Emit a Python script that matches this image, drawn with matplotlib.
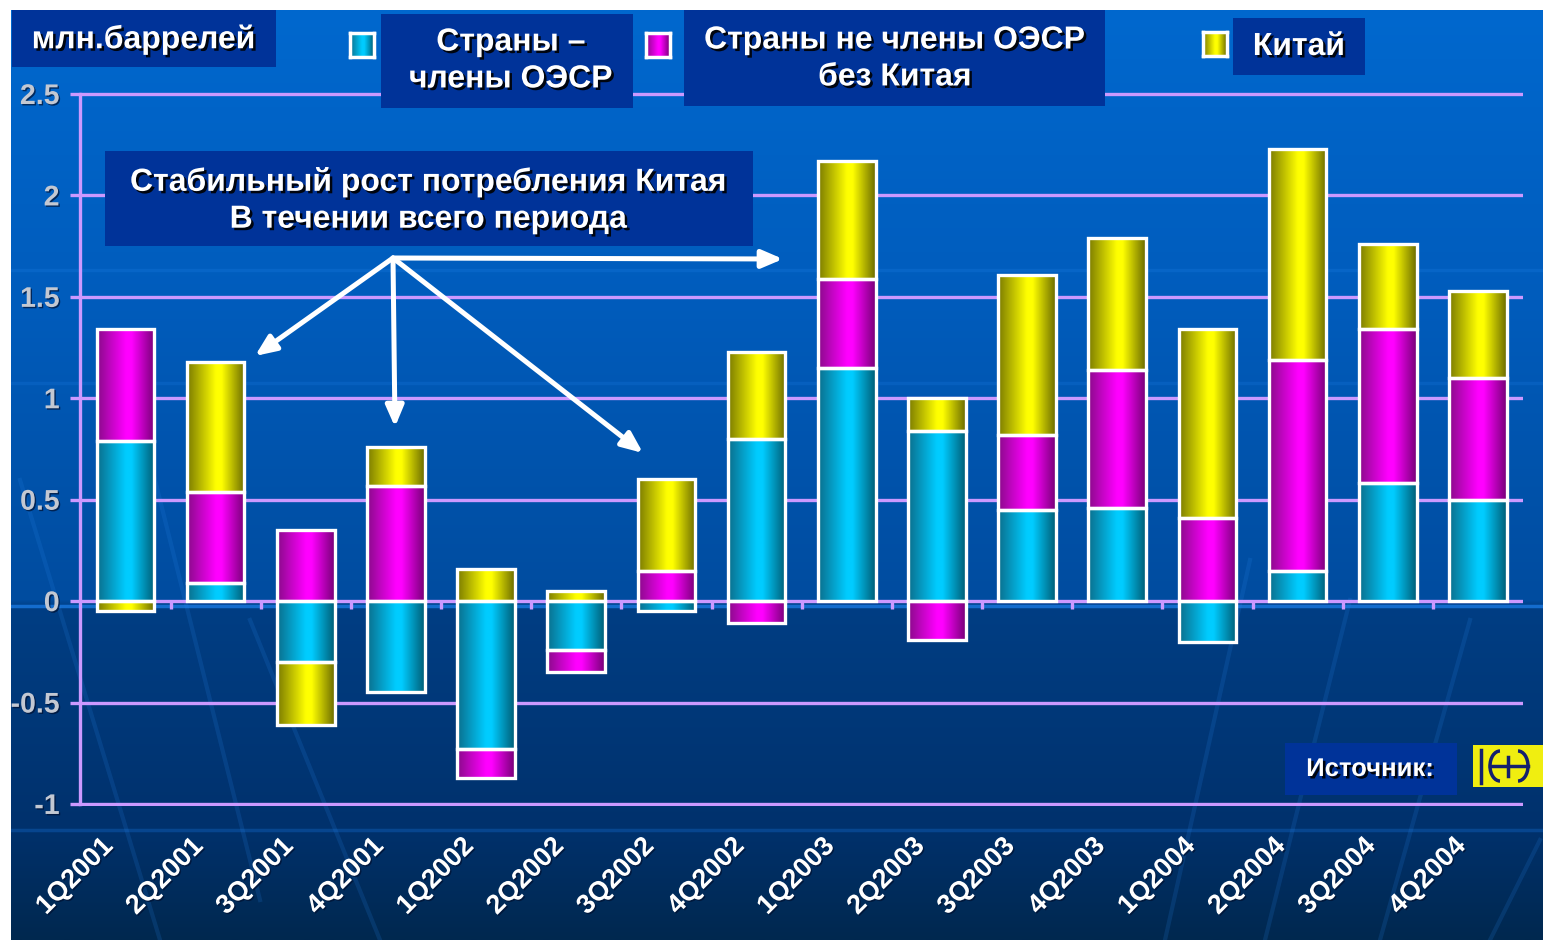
import matplotlib
matplotlib.use('Agg')
import numpy as np
import matplotlib.pyplot as plt
from matplotlib.colors import LinearSegmentedColormap, to_rgb
from matplotlib.patches import Rectangle, FancyArrowPatch, Arc
from matplotlib.lines import Line2D
from matplotlib.transforms import ScaledTranslation
import matplotlib.patheffects as pe

# ---------------- data ----------------
quarters = ['1Q2001', '2Q2001', '3Q2001', '4Q2001',
            '1Q2002', '2Q2002', '3Q2002', '4Q2002',
            '1Q2003', '2Q2003', '3Q2003', '4Q2003',
            '1Q2004', '2Q2004', '3Q2004', '4Q2004']
oecd     = [0.79, 0.09, -0.30, -0.45, -0.73, -0.24, -0.05, 0.80,
            1.15, 0.84, 0.45, 0.46, -0.20, 0.15, 0.58, 0.50]
non_oecd = [0.55, 0.45, 0.35, 0.57, -0.14, -0.11, 0.15, -0.11,
            0.44, -0.19, 0.37, 0.68, 0.41, 1.04, 0.76, 0.60]
china    = [-0.05, 0.64, -0.31, 0.19, 0.16, 0.05, 0.45, 0.43,
            0.58, 0.16, 0.79, 0.65, 0.93, 1.04, 0.42, 0.43]
y_ticks = [-1, -0.5, 0, 0.5, 1, 1.5, 2, 2.5]
y_tick_labels = ['-1', '-0.5', '0', '0.5', '1', '1.5', '2', '2.5']

unit_label = 'млн.баррелей'
legend_labels = ['Страны –\nчлены ОЭСР', 'Страны не члены ОЭСР\nбез Китая', 'Китай']
note_text = 'Стабильный рост потребления Китая\nВ течении всего периода'
source_text = 'Источник:'

# ---------------- style ----------------
FONT = ['Liberation Sans', 'DejaVu Sans']
plt.rcParams['font.family'] = FONT
GRID = '#CC99FF'
BOXC = '#003399'
grad_colors = {
    'cyan':    ('#0A6E8C', '#00CCFF', '#005C74'),
    'magenta': ('#8A0A8A', '#FF00FF', '#760076'),
    'yellow':  ('#7A7A00', '#FFFF00', '#6A6A00'),
}

W, H = 1543, 940
fig = plt.figure(figsize=(W / 100, H / 100), dpi=100, facecolor='white')


def fx(x):
    return x / W


def fy(y):
    return 1 - y / H


def make_cmap(name):
    l, m, r = grad_colors[name]
    return LinearSegmentedColormap.from_list(
        name, [(0, l), (0.5, m), (0.6, m), (1, r)])


grad = np.linspace(0, 1, 256)[None, :]

# ---------------- background ----------------
bg = fig.add_axes([fx(11), 0, fx(1543) - fx(11), fy(10)])
bg.set_xlim(11, 1543)
bg.set_ylim(940, 10)
bg.axis('off')
stops_y = [10, 300, 600, 607, 830, 940]
stops_c = [to_rgb(c) for c in ['#0068CE', '#005CBC', '#004C9F', '#003E84', '#00316C', '#00284F']]
ys = np.arange(10, 941)
img = np.zeros((len(ys), 1, 3))
for ch in range(3):
    img[:, 0, ch] = np.interp(ys, stops_y, [c[ch] for c in stops_c])
bg.imshow(img, extent=(11, 1543, 940, 10), aspect='auto', origin='upper',
          interpolation='bilinear')
for yy, a in [(270, 0.3), (383, 0.25), (606, 0.8), (830, 0.3)]:
    bg.plot([11, 1543], [yy, yy], color='#1A78E0', lw=2.5, alpha=a)
for (x0, y0, x1, y1) in [(20, 480, 160, 940), (140, 420, 260, 900), (250, 620, 380, 940),
                         (1250, 560, 1165, 940), (1350, 600, 1265, 940),
                         (1470, 620, 1380, 940), (1540, 840, 1490, 940)]:
    bg.plot([x0, x1], [y0, y1], color='#2A88EE', lw=3, alpha=0.16)

# ---------------- main axes ----------------
ax = fig.add_axes([fx(80.4), fy(806), fx(1523) - fx(80.4), (806 - 92) / H])
ax.set_facecolor('none')

n = len(quarters)
x = np.arange(n)
pos = np.zeros(n)
neg = np.zeros(n)
for vals, cname in [(oecd, 'cyan'), (non_oecd, 'magenta'), (china, 'yellow')]:
    v = np.array(vals, dtype=float)
    bottom = np.where(v >= 0, pos, neg)
    bars = ax.bar(x, v, width=0.64, bottom=bottom, facecolor='none',
                  edgecolor='white', linewidth=2.4, zorder=4)
    cm = make_cmap(cname)
    for p in bars.patches:
        bb = p.get_bbox()
        im = ax.imshow(grad, cmap=cm, extent=(bb.x0, bb.x1, bb.y0, bb.y1),
                       aspect='auto', zorder=3, interpolation='bilinear')
        im.set_clip_path(p)
    pos += np.clip(v, 0, None)
    neg += np.clip(v, None, 0)

# zero line boundary ticks
ax.vlines(x[:-1] + 0.5, -0.04, 0, colors=GRID, lw=2.4, zorder=1)

ax.set_xlim(-0.5, n - 0.5)
ax.set_ylim(-1.01, 2.51)
ax.set_yticks(y_ticks)
ax.set_yticklabels(y_tick_labels, fontweight='bold', fontsize=20.5, color='#C3C8D2')
ax.grid(axis='y', color=GRID, lw=2.4)
ax.set_axisbelow(True)
for s in ['top', 'right', 'bottom']:
    ax.spines[s].set_visible(False)
ax.spines['left'].set_color(GRID)
ax.spines['left'].set_linewidth(2.4)
ax.spines['left'].set_bounds(-1, 2.5)
ax.tick_params(axis='y', color=GRID, length=7, width=2.4, pad=8)

ax.set_xticks(x)
ax.set_xticklabels(quarters, rotation=45, ha='right', va='center',
                   rotation_mode='anchor', fontsize=19.5, fontweight='bold', color='white')
ax.tick_params(axis='x', length=0, pad=26)
for lab in ax.get_xticklabels():
    lab.set_transform(lab.get_transform() + ScaledTranslation(-0.16, 0, fig.dpi_scale_trans))
    lab.set_path_effects([pe.withSimplePatchShadow(offset=(1, -1), shadow_rgbFace='#001030', alpha=0.7)])
for lab in ax.get_yticklabels():
    lab.set_path_effects([pe.withSimplePatchShadow(offset=(1, -1), shadow_rgbFace='#001030', alpha=0.7)])

# ---------------- boxes / texts ----------------
shadow = [pe.withSimplePatchShadow(offset=(1.8, -1.8), shadow_rgbFace='black', alpha=0.9)]


def box(x0, y0, x1, y1, color=BOXC, z=5):
    fig.add_artist(Rectangle((fx(x0), fy(y1)), fx(x1) - fx(x0), fy(y0) - fy(y1),
                             transform=fig.transFigure, facecolor=color,
                             edgecolor='none', zorder=z))


def label(cx, cy, s, size, ls=1.2):
    fig.text(fx(cx), fy(cy), s, ha='center', va='center', fontsize=size,
             fontweight='bold', color='white', linespacing=ls,
             path_effects=shadow, zorder=6)


box(12, 10, 276, 67)
label(144, 40, unit_label, 23)

box(381, 14, 633, 108)
label(511, 61, legend_labels[0], 23, 1.3)
box(684, 10, 1105, 106)
label(895, 59, legend_labels[1], 23, 1.3)
box(1233, 18, 1365, 75)
label(1299, 47, legend_labels[2], 23)

box(105, 151, 753, 246)
label(429, 201, note_text, 23, 1.3)

box(1285, 743, 1457, 795)
label(1370, 769, source_text, 18.5)

# legend markers
for (x0, y0, cname) in [(350, 33, 'cyan'), (646, 33, 'magenta'), (1203, 32, 'yellow')]:
    la = fig.add_axes([fx(x0), fy(y0 + 24), fx(24), 24 / H])
    la.imshow(grad, cmap=make_cmap(cname), aspect='auto', interpolation='bilinear')
    la.set_xticks([])
    la.set_yticks([])
    for s in la.spines.values():
        s.set_color('white')
        s.set_linewidth(2.5)

# arrows
ox, oy = 393, 258
for tx, ty in [(255, 356), (395, 427), (643, 453), (783, 259)]:
    fig.add_artist(FancyArrowPatch((fx(ox), fy(oy)), (fx(tx), fy(ty)),
                                   transform=fig.transFigure,
                                   arrowstyle='-|>,head_length=0.7,head_width=0.3',
                                   mutation_scale=18, color='white', lw=3.6,
                                   shrinkA=0, shrinkB=0, zorder=7))

# logo
box(1473, 745, 1543, 787, color='#F0EE10', z=5)
NAVY = '#14206E'
for (xa, ya, xb, yb) in [(1481, 750, 1481, 783), (1490, 766, 1528, 766), (1508, 757, 1508, 776)]:
    fig.add_artist(Line2D([fx(xa), fx(xb)], [fy(ya), fy(yb)], transform=fig.transFigure,
                          color=NAVY, lw=2.5, zorder=6))
fig.add_artist(Arc((fx(1500), fy(766)), fx(20), 30 / H, theta1=90, theta2=270,
                   transform=fig.transFigure, color=NAVY, lw=2.5, zorder=6))
fig.add_artist(Arc((fx(1518), fy(766)), fx(20), 30 / H, theta1=-90, theta2=90,
                   transform=fig.transFigure, color=NAVY, lw=2.5, zorder=6))

fig.savefig('out.png', dpi=100, facecolor='white')
